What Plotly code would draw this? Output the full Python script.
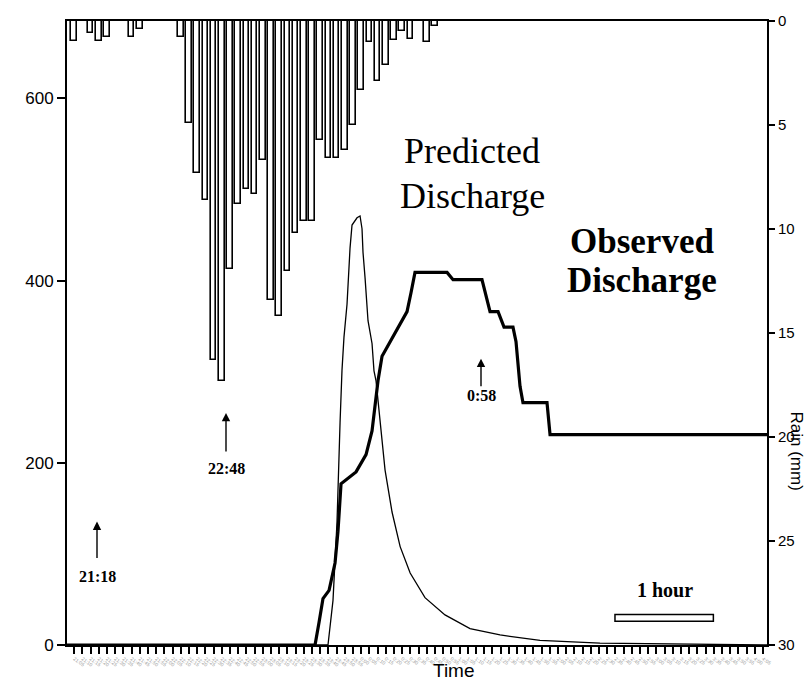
import plotly.graph_objects as go

# ---------------- data ----------------
# time axis: 5-minute steps (step 0 = 21:05)
steps = list(range(0, 85))
tick_labels = [f"{(21*60+5+5*s)//60 % 24}:{(21*60+5+5*s) % 60:02d}" for s in steps]

# rainfall (mm) per 5-minute step
rain_step = [0, 2, 3, 4, 7, 8, 13, 14, 15, 16, 17, 18, 19, 20, 21, 22, 23, 24, 25, 26,
             27, 28, 29, 30, 31, 32, 33, 34, 35, 36, 37, 38, 39, 40, 41, 43, 44]
rain_mm = [0.95, 0.57, 0.95, 0.76, 0.76, 0.38, 0.77, 4.9, 7.3, 8.6, 16.3, 17.3, 11.9, 8.8,
           8.1, 8.3, 6.7, 13.4, 14.2, 12.0, 10.2, 9.6, 9.6, 5.7, 6.6, 6.6, 6.2, 5.0, 3.3,
           1.0, 2.9, 2.1, 0.9, 0.5, 0.86, 1.0, 0.25]

# observed discharge
obs_t = [-1, 29.38, 29.87, 30.35, 31.09, 31.82, 32.18, 32.55, 34.38, 35.6, 36.33, 36.82,
         37.06, 37.55, 40.6, 41.09, 41.57, 45.48, 46.21, 49.74, 50.11, 50.72, 51.70, 52.43,
         53.52, 53.89, 54.38, 54.74, 57.67, 58.04, 85]
obs_q = [0, 0, 25, 51, 60, 90, 125, 177, 190, 209, 235, 271, 290, 317, 366, 387, 409, 409,
         401, 401, 387, 366, 366, 349, 349, 333, 284, 266, 266, 231, 231]

# predicted discharge
pred_t = [-1, 30.96, 31.57, 32.06, 32.43, 32.67, 32.91, 33.28, 33.65, 33.89, 34.50, 34.87,
          35.11, 35.23, 35.48, 35.84, 36.33, 36.57, 36.82, 37.31, 37.92, 38.77, 39.76, 40.98,
          42.79, 45.23, 48.28, 51.94, 56.82, 64.13, 73.89, 85]
pred_q = [0, 0, 49, 135, 244, 302, 338, 374, 436, 461, 469, 471, 457, 431, 403, 356, 331,
          301, 290, 244, 192, 146, 108, 79, 52, 33, 18, 11, 5, 2, 1, 0]

left_ticks = [0, 200, 400, 600]
right_ticks = [0, 5, 10, 15, 20, 25, 30]

# ---------------- figure ----------------
W, H = 807, 683
ML, MR, MT, MB = 67, 40, 13, 38
PW, PH = W - ML - MR, H - MT - MB


def px(xp):
    return (xp - ML) / PW


def py(yp):
    return (H - MB - yp) / PH


SERIF = "Liberation Serif, Times New Roman, serif"
SANS = "Liberation Sans, Arial, sans-serif"

fig = go.Figure()
fig.add_trace(go.Bar(x=rain_step, y=rain_mm, yaxis="y2", width=0.68,
                     marker=dict(color="white", line=dict(color="black", width=1.6)),
                     showlegend=False))
fig.add_trace(go.Scatter(x=pred_t, y=pred_q, mode="lines",
                         line=dict(color="black", width=1.3), showlegend=False))
fig.add_trace(go.Scatter(x=obs_t, y=obs_q, mode="lines",
                         line=dict(color="black", width=3.2), showlegend=False))

annotations = []
# titles / labels
for txt, x, y, size, bold in [("Predicted", 472, 145, 36, False),
                              ("Discharge", 472, 190, 36, False),
                              ("Observed", 642, 236, 35, True),
                              ("Discharge", 642, 276, 35, True),
                              ("1 hour", 665, 589, 20, True),
                              ("21:18", 97, 576, 16, True),
                              ("22:48", 226, 466, 16, True),
                              ("0:58", 481, 392, 16, True)]:
    annotations.append(dict(text=f"<b>{txt}</b>" if bold else txt, x=px(x), y=py(y),
                            xref="paper", yref="paper", showarrow=False,
                            xanchor="center", yanchor="middle",
                            font=dict(family=SERIF, size=size, color="black")))
# arrows
for x, tip, tail in [(97, 520, 558), (226, 410, 450), (481, 355, 384)]:
    annotations.append(dict(text="", x=px(x), y=py(tip), xref="paper", yref="paper",
                            showarrow=True, ax=0, ay=tail - tip, arrowhead=2,
                            arrowsize=1.2, arrowwidth=1.4, arrowcolor="black"))
# axis titles
annotations.append(dict(text="Time", x=px(454), y=py(671), xref="paper", yref="paper",
                        showarrow=False, xanchor="center", yanchor="middle",
                        font=dict(family=SANS, size=19, color="black")))
annotations.append(dict(text="Rain (mm)", x=px(797), y=py(448), xref="paper", yref="paper",
                        showarrow=False, textangle=90, xanchor="center", yanchor="middle",
                        font=dict(family=SANS, size=17, color="black")))

shapes = [dict(type="rect", xref="x", yref="paper", x0=65.96, x1=77.96,
               y0=py(621), y1=py(614), line=dict(color="black", width=1.5),
               fillcolor="white")]

fig.update_layout(
    width=W, height=H, margin=dict(l=ML, r=MR, t=MT, b=MB),
    paper_bgcolor="white", plot_bgcolor="white", showlegend=False,
    annotations=annotations, shapes=shapes, bargap=0,
    xaxis=dict(range=[-0.87, 84.5], showgrid=False, zeroline=False, showline=True,
               linecolor="black", linewidth=2, mirror=True, ticks="outside", ticklen=7,
               tickwidth=1.6, tickcolor="black", tickmode="array", tickvals=steps,
               ticktext=tick_labels, tickangle=35,
               tickfont=dict(family=SANS, size=5, color="#9a9a9a")),
    yaxis=dict(range=[0, 685], showgrid=False, zeroline=False, showline=True,
               linecolor="black", linewidth=2, ticks="outside", ticklen=8, tickwidth=1.5,
               tickcolor="black", tickmode="array", tickvals=left_ticks,
               tickfont=dict(family=SANS, size=17, color="black")),
    yaxis2=dict(range=[30, 0], overlaying="y", side="right", showgrid=False,
                zeroline=False, showline=True, linecolor="black", linewidth=2,
                ticks="outside", ticklen=6, tickwidth=1.5, tickcolor="black",
                tickmode="array", tickvals=right_ticks,
                tickfont=dict(family=SANS, size=15, color="black")),
)

fig.write_html("out.html")
